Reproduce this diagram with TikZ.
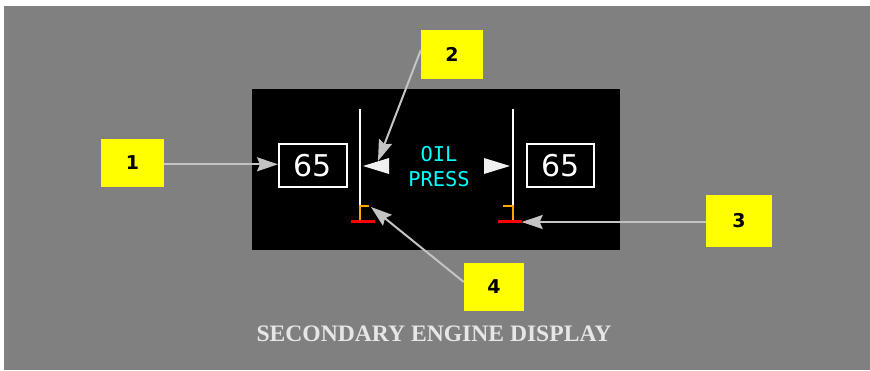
\documentclass[tikz,border=0pt]{standalone}
\usepackage{fontspec}
\setmainfont{Liberation Serif}
\newfontfamily\monof{DejaVu Sans Mono}
\newfontfamily\valf{DejaVu Sans}
\newfontfamily\labf{DejaVu Sans}
\usetikzlibrary{arrows.meta}
\definecolor{bggray}{HTML}{808080}
\definecolor{callout}{HTML}{C4C4C4}
\definecolor{tri}{HTML}{F0F0F0}
\definecolor{titlec}{HTML}{E6E6E6}
\definecolor{ylw}{HTML}{FFFF00}
\definecolor{org}{HTML}{FFA500}
\definecolor{cyn}{HTML}{00FFFF}
\definecolor{redl}{HTML}{FF0000}
\tikzset{
  tag/.style={fill=ylw, draw=none, inner sep=0pt, font=\labf\bfseries\fontsize{19}{19}\selectfont, text=black},
  valbox/.style={draw=white, line width=2pt, fill=black, inner sep=0pt, minimum height=43pt, text=white, font=\valf\fontsize{30}{30}\selectfont},
  callarrow/.style={draw=callout, line width=2pt, -{Stealth[length=21pt,width=14pt,inset=3pt]}},
  scaleline/.style={draw=white, line width=2pt},
}
\begin{document}
\begin{tikzpicture}[x=1pt,y=-1pt]
\useasboundingbox (0,0) rectangle (870,370);
\fill[white] (0,0) rectangle (870,370);
\fill[bggray] (4,6) rectangle (870,370);
% panel
\fill[black] (252,89) rectangle (620,250);
% value boxes
\node[valbox, minimum width=68pt] (v1) at (313,165.7) {65};
\node[valbox, minimum width=67pt] (v2) at (560.5,165.7) {65};
% scales
\draw[scaleline] (360,109) -- (360,205);
\draw[scaleline] (513,109) -- (513,205);
\draw[org, line width=2.4pt] (369,206) -- (360,206) -- (360,221);
\draw[org, line width=2.4pt] (503,206) -- (513,206) -- (513,221);
\draw[redl, line width=2.6pt] (351,221.7) -- (375,221.7);
\draw[redl, line width=2.6pt] (498,221.7) -- (522,221.7);
% pointers
\fill[tri] (363,166) -- (389,158) -- (389,174) -- cycle;
\fill[tri] (510,166) -- (484,158) -- (484,174) -- cycle;
% label
\node[text=cyn, font=\monof\fontsize{20.4}{25}\selectfont, align=center] (oil) at (439,166.5) {OIL\\PRESS};
% tags
\node[tag, minimum width=63pt, minimum height=48pt] (b1) at (132.5,163) {1};
\node[tag, minimum width=62pt, minimum height=49pt] (b2) at (452,54.5) {2};
\node[tag, minimum width=66pt, minimum height=52pt] (b3) at (739,221) {3};
\node[tag, minimum width=60pt, minimum height=48pt] (b4) at (494,287) {4};
\coordinate (t2) at (378,161);
\coordinate (t3) at (521.7,222);
\coordinate (t4) at (371,207);
\draw[callarrow] ([yshift=-1.3pt]b1.east) -- ([yshift=1.4pt]v1.west);
\draw[callarrow] ([yshift=4.5pt]b2.west) -- (t2);
\draw[callarrow] ([yshift=-1pt]b3.west) -- (t3);
\draw[callarrow] ([yshift=5pt]b4.west) -- (t4);
% title
\node[text=titlec, font=\bfseries\fontsize{23.6}{23.6}\selectfont] (title) at (434,334) {SECONDARY ENGINE DISPLAY};
\end{tikzpicture}
\end{document}
